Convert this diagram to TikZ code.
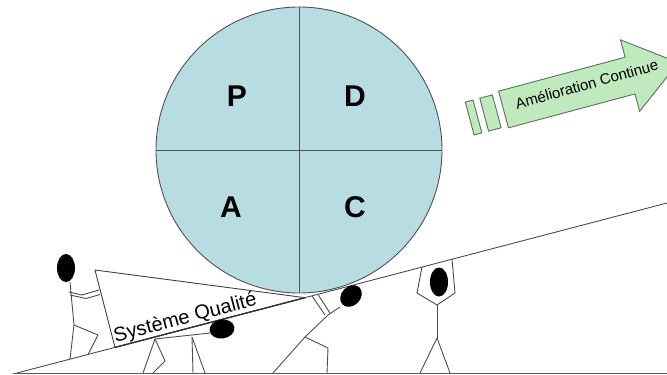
\documentclass[tikz,border=0pt]{standalone}
\usepackage{fontspec}
\setmainfont{Liberation Sans}
\definecolor{wheelblue}{RGB}{183,221,226}
\definecolor{arrowgreen}{RGB}{190,234,190}
\definecolor{edgegray}{RGB}{80,80,80}
\definecolor{arrowedge}{RGB}{95,110,95}
\begin{document}
\begin{tikzpicture}[x=1pt,y=-1pt,
  wheel/.style={circle, draw=edgegray, line width=0.9pt, fill=wheelblue, minimum size=286pt, inner sep=0pt},
  divider/.style={draw=edgegray, line width=0.9pt},
  pdca/.style={font=\fontsize{30}{30}\selectfont\bfseries, inner sep=0pt},
  slope/.style={draw=black!70, line width=0.9pt},
  ground/.style={draw=black!65, line width=1.4pt},
  board/.style={draw=black!75, line width=0.9pt, fill=white, line join=round},
  stick/.style={draw=black!70, line width=0.9pt, line join=round},
  head/.style={fill=black},
  arrowbody/.style={draw=arrowedge, line width=0.9pt, fill=arrowgreen, line join=miter},
  labeltext/.style={inner sep=0pt}]
\useasboundingbox (0,0) rectangle (667,375);

% PDCA wheel
\node[wheel] (wheel) at (299,150) {};
\draw[divider] (wheel.north) -- (wheel.south);
\draw[divider] (wheel.west) -- (wheel.east);
\node[pdca] (P) at (237,96) {P};
\node[pdca] (D) at (355,96) {D};
\node[pdca] (A) at (231,207) {A};
\node[pdca] (C) at (355,207) {C};

% ground and slope
\coordinate (g1) at (13,373.5);
\coordinate (g2) at (667,373.5);
\draw[ground] (g1) -- (g2);
\coordinate (s1) at (17,373);
\coordinate (s2) at (667,203);

% quality-system wedge
\coordinate (b1) at (95,270);
\coordinate (b2) at (115,347.4);
\coordinate (b3) at (305,297.7);
\draw[board] (b1) -- (b2) -- (b3) -- cycle;
\draw[slope] (s1) -- (s2);
\draw[draw=black!80, line width=1.3pt] (b2) -- (b3);
\node[labeltext, font=\fontsize{20}{20}\selectfont, rotate=14.66, anchor=base] (qs) at (186.6,323.5) {Système Qualité};

% figure pushing the wedge
\fill[head] (66,268) ellipse [x radius=9pt, y radius=14pt];
\coordinate (f1neck) at (70,282);
\coordinate (f1hip) at (74,325);
\draw[stick] (f1neck) -- (f1hip) -- (70,359);
\draw[stick] (f1hip) -- (98,335) -- (88,354.5);
\draw[stick] (69,292) -- (82,295) -- (99,290);
\draw[stick] (70,295) -- (86,298.5) -- (100,294.5);

% figure under the wedge
\begin{scope}[shift={(222,329)}, rotate=8]
\fill[head] (0,0) ellipse [x radius=12.5pt, y radius=9.5pt];
\end{scope}
\coordinate (f2hip) at (155,339);
\draw[stick] (210,333) -- (f2hip);
\draw[stick] (f2hip) -- (165,361) -- (153,373);
\draw[stick] (f2hip) -- (143,373);
\coordinate (f2arm) at (192,337);
\draw[stick] (f2arm) -- (193,373);
\draw[stick] (f2arm) -- (205,373);

% figure pushing the wheel
\begin{scope}[shift={(351,296)}, rotate=45]
\fill[head] (0,0) ellipse [x radius=12pt, y radius=9.5pt];
\end{scope}
\coordinate (f3sh) at (328,315);
\coordinate (f3hip) at (305,337);
\draw[stick] (340,307) -- (f3sh) -- (f3hip);
\draw[stick] (325,315) -- (312,296);
\draw[stick] (330,313) -- (318,294.5);
\draw[stick] (f3hip) -- (328,348) -- (327,373);
\draw[stick] (f3hip) -- (273,373);

% figure holding up the slope
\fill[head] (439,282) ellipse [x radius=9pt, y radius=14.5pt];
\coordinate (f4sh) at (437,305);
\coordinate (f4hip) at (437,338);
\draw[stick] (f4sh) -- (417,293) -- (422,267);
\draw[stick] (f4sh) -- (455,293) -- (452,259);
\draw[stick] (f4sh) -- (f4hip);
\draw[stick] (f4hip) -- (420,373);
\draw[stick] (f4hip) -- (450,373);

% continuous improvement arrow
\begin{scope}[shift={(503.5,109.5)}, rotate=15]
\draw[arrowbody] (-35pt,-17pt) rectangle (-27pt,17pt);
\draw[arrowbody] (-20pt,-17pt) rectangle (-7pt,17pt);
\draw[arrowbody] (0pt,19pt) -- (131pt,19pt) -- (131pt,37pt) -- (181pt,0pt)
  -- (131pt,-37pt) -- (131pt,-19pt) -- (0pt,-19pt) -- cycle;
\node[labeltext, font=\fontsize{15}{15}\selectfont, rotate=15.5] (ac) at (87pt,3pt) {Amélioration Continue};
\end{scope}
\end{tikzpicture}
\end{document}
